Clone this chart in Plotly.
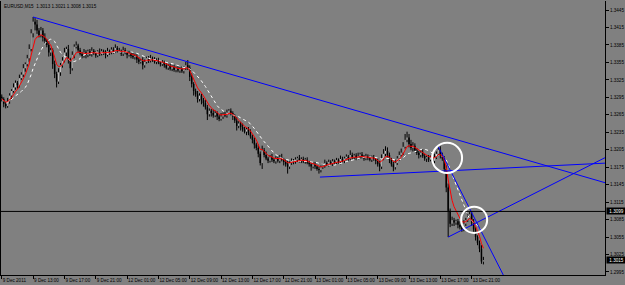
import plotly.graph_objects as go
import pandas as pd

# ---------------- data ----------------
symbol_header = "EURUSD,M15  1.3013 1.3021 1.3008 1.3015"

first_open = 1.3296
closes = [
    1.3292, 1.3284, 1.3280, 1.3288, 1.3298, 1.3306, 1.3312, 1.3320, 1.3316, 1.3328,
    1.3334, 1.3345, 1.3352, 1.3362, 1.3378, 1.3405, 1.3425, 1.3420, 1.3410, 1.3402,
    1.3410, 1.3398, 1.3392, 1.3385, 1.3372, 1.3376, 1.3352, 1.3335, 1.3322, 1.3338,
    1.3350, 1.3358, 1.3372, 1.3378, 1.3360, 1.3345, 1.3368, 1.3382, 1.3384, 1.3376,
    1.3370, 1.3366, 1.3372, 1.3368, 1.3374, 1.3369, 1.3375, 1.3371, 1.3367, 1.3373,
    1.3370, 1.3374, 1.3372, 1.3368, 1.3374, 1.3372, 1.3377, 1.3374, 1.3380, 1.3376,
    1.3374, 1.3370, 1.3376, 1.3372, 1.3368, 1.3371, 1.3366, 1.3364, 1.3366, 1.3360,
    1.3356, 1.3358, 1.3350, 1.3356, 1.3362, 1.3358, 1.3362, 1.3360, 1.3356, 1.3359,
    1.3355, 1.3352, 1.3355, 1.3350, 1.3346, 1.3349, 1.3344, 1.3347, 1.3342, 1.3345,
    1.3341, 1.3344, 1.3340, 1.3345, 1.3350, 1.3346, 1.3330, 1.3318, 1.3306, 1.3300,
    1.3292, 1.3298, 1.3290, 1.3285, 1.3278, 1.3266, 1.3272, 1.3268, 1.3264, 1.3268,
    1.3262, 1.3258, 1.3262, 1.3266, 1.3264, 1.3268, 1.3272, 1.3268, 1.3262, 1.3255,
    1.3246, 1.3250, 1.3244, 1.3240, 1.3236, 1.3240, 1.3234, 1.3228, 1.3222, 1.3214,
    1.3208, 1.3198, 1.3182, 1.3204, 1.3196, 1.3190, 1.3186, 1.3192, 1.3188, 1.3185,
    1.3190, 1.3186, 1.3192, 1.3188, 1.3184, 1.3180, 1.3176, 1.3182, 1.3186, 1.3184,
    1.3188, 1.3190, 1.3186, 1.3189, 1.3185, 1.3188, 1.3183, 1.3180, 1.3176, 1.3180,
    1.3176, 1.3172, 1.3170, 1.3175, 1.3178, 1.3182, 1.3180, 1.3184, 1.3181, 1.3185,
    1.3183, 1.3187, 1.3184, 1.3189, 1.3186, 1.3190, 1.3193, 1.3190, 1.3196, 1.3192,
    1.3195, 1.3191, 1.3194, 1.3197, 1.3193, 1.3190, 1.3194, 1.3191, 1.3188, 1.3192,
    1.3189, 1.3186, 1.3180, 1.3176, 1.3190, 1.3198, 1.3203, 1.3196, 1.3188, 1.3180,
    1.3175, 1.3182, 1.3190, 1.3196, 1.3200, 1.3210, 1.3222, 1.3226, 1.3215, 1.3208,
    1.3212, 1.3204, 1.3200, 1.3196, 1.3200, 1.3194, 1.3190, 1.3192, 1.3188, 1.3192,
    1.3186, 1.3192, 1.3198, 1.3205, 1.3196, 1.3190, 1.3172, 1.3140, 1.3100, 1.3078,
    1.3084, 1.3080, 1.3082, 1.3076, 1.3072, 1.3068, 1.3078, 1.3084, 1.3090, 1.3094,
    1.3080, 1.3068, 1.3055, 1.3045, 1.3035, 1.3013, 1.3015,
]
# wick lengths in pips above / below the candle body
up_wick = [
    4, 3, 3, 6, 4, 3, 7, 4, 3, 6, 4, 7, 3, 6, 8, 7, 8, 6, 8, 4,
    6, 4, 7, 3, 6, 4, 3, 6, 4, 7, 4, 6, 8, 4, 7, 3, 6, 4, 7, 3,
    4, 3, 6, 4, 3, 4, 6, 3, 4, 3, 6, 4, 3, 4, 6, 3, 4, 4, 6, 3,
    4, 3, 6, 4, 3, 4, 3, 6, 4, 3, 4, 3, 6, 4, 3, 4, 6, 3, 4, 3,
    4, 3, 4, 3, 6, 3, 4, 3, 4, 3, 4, 3, 4, 3, 6, 9, 4, 6, 3, 4,
    6, 4, 3, 4, 6, 4, 4, 3, 6, 4, 3, 4, 6, 3, 4, 6, 3, 4, 3, 4,
    6, 4, 3, 6, 4, 3, 4, 6, 3, 4, 3, 6, 4, 8, 4, 6, 3, 4, 6, 3,
    4, 3, 4, 6, 3, 4, 6, 3, 4, 3, 4, 3, 6, 3, 4, 3, 4, 3, 4, 3,
    4, 3, 4, 3, 4, 6, 3, 4, 3, 4, 3, 4, 3, 6, 4, 3, 4, 3, 8, 4,
    3, 4, 6, 3, 4, 3, 4, 3, 4, 3, 4, 3, 4, 6, 7, 8, 8, 6, 4, 3,
    4, 6, 4, 6, 7, 8, 10, 10, 6, 7, 6, 4, 4, 3, 4, 6, 4, 3, 4, 3,
    4, 6, 4, 7, 6, 4, 4, 6, 7, 4, 6, 4, 3, 4, 6, 4, 6, 4, 4, 5,
    4, 6, 4, 3, 4, 6, 6,
]
dn_wick = [
    4, 6, 4, 3, 4, 6, 3, 4, 6, 4, 3, 4, 6, 4, 6, 4, 7, 10, 6, 4,
    4, 7, 6, 4, 7, 6, 8, 7, 10, 4, 6, 4, 3, 6, 7, 10, 4, 6, 3, 4,
    3, 4, 3, 6, 4, 3, 4, 3, 4, 3, 4, 3, 4, 6, 3, 4, 3, 4, 3, 4,
    3, 4, 4, 3, 6, 3, 4, 3, 4, 6, 4, 3, 7, 4, 3, 4, 3, 4, 3, 4,
    3, 4, 3, 4, 3, 4, 3, 4, 3, 4, 3, 4, 3, 4, 3, 4, 7, 6, 8, 4,
    6, 4, 7, 6, 4, 10, 4, 6, 4, 3, 6, 4, 3, 4, 3, 4, 3, 4, 6, 4,
    8, 4, 6, 4, 3, 6, 4, 4, 6, 7, 4, 6, 4, 10, 4, 3, 4, 3, 4, 3,
    4, 3, 4, 3, 6, 4, 12, 4, 3, 4, 3, 4, 3, 4, 3, 4, 3, 4, 7, 3,
    4, 3, 6, 4, 3, 4, 3, 4, 3, 4, 3, 4, 3, 4, 3, 4, 3, 4, 3, 4,
    3, 4, 3, 4, 3, 4, 3, 4, 3, 4, 3, 6, 4, 8, 4, 3, 4, 4, 6, 4,
    7, 4, 3, 4, 3, 4, 3, 4, 6, 4, 6, 4, 4, 6, 4, 3, 4, 6, 4, 3,
    6, 4, 3, 4, 6, 4, 7, 8, 45, 6, 4, 6, 4, 6, 4, 4, 3, 4, 3, 4,
    6, 4, 6, 4, 6, 4, 5,
]

x_tick_bars = [0, 16, 32, 48, 64, 80, 96, 112, 128, 144, 160, 176, 192, 208, 224, 240]
x_tick_labels = ["9 Dec 2011", "9 Dec 13:00", "9 Dec 17:00", "9 Dec 21:00",
                 "12 Dec 01:00", "12 Dec 05:00", "12 Dec 09:00", "12 Dec 13:00",
                 "12 Dec 17:00", "12 Dec 21:00", "13 Dec 01:00", "13 Dec 05:00",
                 "13 Dec 09:00", "13 Dec 13:00", "13 Dec 17:00", "13 Dec 21:00"]
y_tick_prices = [1.2995, 1.3025, 1.3055, 1.3085, 1.3115, 1.3145, 1.3175, 1.3205,
                 1.3235, 1.3265, 1.3295, 1.3325, 1.3355, 1.3385, 1.3415, 1.3445]

# trend lines (bar index, price)
trend_x0 = [16, 162.5, 223, 228]
trend_y0 = [1.3433, 1.3158, 1.3210, 1.3055]
trend_x1 = [308.5, 308.5, 262, 308.5]
trend_y1 = [1.3148, 1.3182, 1.2951, 1.3192]

# ellipses (bar index / price extents)
circle_x0 = [219.8, 234.6]
circle_x1 = [235.1, 247.9]
circle_y0 = [1.3165, 1.3062]
circle_y1 = [1.3217, 1.3107]

hline_price = 1.3099
price_labels = [1.3099, 1.3015]

fast_ma_span = 6
slow_ma_period = 13

x_range = [-0.4, 308.1]
y_range = [1.29898, 1.34605]

# ---------------- build ----------------
n = len(closes)
pip = 0.0001
opens = [first_open] + closes[:-1]
highs = [max(o, c) + u * pip for o, c, u in zip(opens, closes, up_wick)]
lows = [min(o, c) - d * pip for o, c, d in zip(opens, closes, dn_wick)]

wx, wy = [], []
bx_up, by_up, bx_dn, by_dn = [], [], [], []
for i in range(n):
    o, c, h, l = opens[i], closes[i], highs[i], lows[i]
    top, bot = max(o, c), min(o, c)
    wx += [i, i, None]
    wy += [h, l, None]
    if abs(c - o) < 0.00005:
        top, bot = top + 0.00003, bot - 0.00003
    if c > o:
        bx_up += [i, i, None]
        by_up += [bot, top, None]
    else:
        bx_dn += [i, i, None]
        by_dn += [bot, top, None]

s = pd.Series(closes)
fast_ma = s.ewm(span=fast_ma_span, adjust=False).mean()
slow_ma = s.rolling(slow_ma_period, min_periods=1).mean()
idx = list(range(n))

fig = go.Figure()
fig.add_trace(go.Scatter(x=wx, y=wy, mode="lines", line=dict(color="black", width=1),
                         hoverinfo="skip"))
fig.add_trace(go.Scatter(x=bx_dn, y=by_dn, mode="lines", line=dict(color="black", width=1.5),
                         hoverinfo="skip"))
fig.add_trace(go.Scatter(x=bx_up, y=by_up, mode="lines", line=dict(color="#d8d8d8", width=0.9),
                         hoverinfo="skip"))
fig.add_trace(go.Scatter(x=idx, y=slow_ma, mode="lines",
                         line=dict(color="white", width=1, dash="dot")))
fig.add_trace(go.Scatter(x=idx, y=fast_ma, mode="lines",
                         line=dict(color="red", width=1)))
for xa, ya, xb, yb in zip(trend_x0, trend_y0, trend_x1, trend_y1):
    fig.add_trace(go.Scatter(x=[xa, xb], y=[ya, yb], mode="lines",
                             line=dict(color="#0000ff", width=1)))

fig.add_shape(type="line", xref="paper", x0=0, x1=1, yref="y", y0=hline_price, y1=hline_price,
              line=dict(color="black", width=1))
for xa, xb, ya, yb in zip(circle_x0, circle_x1, circle_y0, circle_y1):
    fig.add_shape(type="circle", xref="x", yref="y", x0=xa, x1=xb, y0=ya, y1=yb,
                  line=dict(color="white", width=2))

font_small = dict(family="Liberation Sans, Arial, sans-serif", size=4.6, color="black")

for p in price_labels:
    fig.add_annotation(x=1, xref="paper", xanchor="left", y=p, yref="y", yanchor="middle",
                       text=f"{p:.4f}", showarrow=False, bgcolor="black",
                       font=dict(family="Liberation Sans, Arial, sans-serif", size=4.6, color="white"),
                       borderpad=0.6, xshift=1, width=18)

fig.add_annotation(x=0, xref="paper", xanchor="left", y=1, yref="paper", yanchor="top",
                   text=symbol_header, showarrow=False, font=font_small, xshift=1, yshift=-1)

fig.update_layout(
    width=625, height=285,
    margin=dict(l=1, r=20, t=1, b=10, autoexpand=False),
    paper_bgcolor="#808080", plot_bgcolor="#808080",
    showlegend=False,
    xaxis=dict(range=x_range, tickvals=x_tick_bars, ticktext=x_tick_labels,
               ticks="outside", ticklen=3, tickcolor="black", showline=True,
               linecolor="black", linewidth=1, showgrid=False, zeroline=False,
               tickfont=font_small, ticklabelposition="outside right",
               tickangle=0, automargin=False),
    yaxis=dict(range=y_range, side="right", tickvals=y_tick_prices,
               ticktext=[f"{p:.4f}" for p in y_tick_prices],
               ticks="outside", ticklen=3, tickcolor="black", showline=True, mirror=True,
               linecolor="black", linewidth=1, showgrid=False, zeroline=False,
               tickfont=font_small, automargin=False),
)

fig.write_html("out.html")
